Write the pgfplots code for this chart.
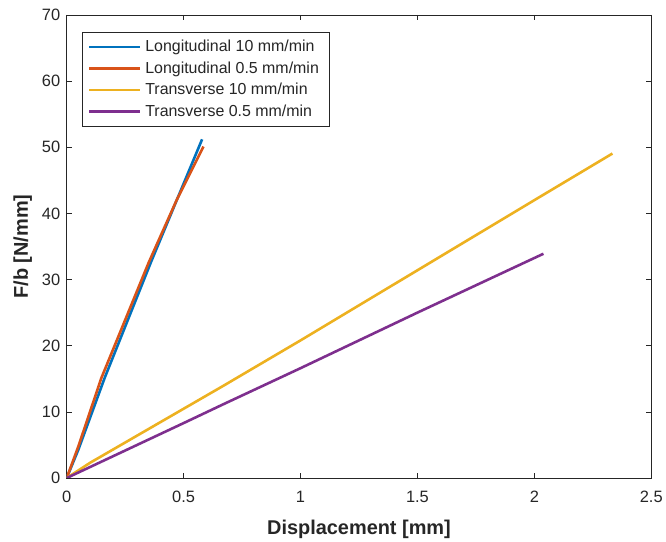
\documentclass[border=0pt]{standalone}
\usepackage{fontspec}
\setmainfont{Liberation Sans}
\usepackage{pgfplots}
\pgfplotsset{compat=1.18}
\definecolor{mblue}{rgb}{0,0.447,0.741}
\definecolor{morange}{rgb}{0.85,0.325,0.098}
\definecolor{myellow}{rgb}{0.929,0.694,0.125}
\definecolor{mpurple}{rgb}{0.494,0.184,0.556}
\definecolor{axgray}{rgb}{0.15,0.15,0.15}
\begin{document}
\begin{tikzpicture}
\begin{axis}[
  scale only axis, width=587pt, height=465pt,
  xmin=0, xmax=2.5, ymin=0, ymax=70,
  xtick={0,0.5,1,1.5,2,2.5}, ytick={0,10,...,70},
  xticklabels={0,0.5,1,1.5,2,2.5},
  tick align=inside, tick pos=both,
  major tick length=5pt,
  axis line style={axgray, line width=0.6pt},
  tick style={axgray, line width=0.6pt},
  /pgf/number format/assume math mode=true,
  tick label style={font=\fontsize{16.5}{19}\selectfont, text=axgray},
  xticklabel style={yshift=-10pt},
  yticklabel style={xshift=-3pt},
  xlabel={\textbf{Displacement [mm]}},
  ylabel={\textbf{F/b [N/mm]}},
  label style={font=\fontsize{20}{22}\selectfont, text=axgray},
  xlabel style={yshift=-10pt},
  ylabel style={yshift=3pt},
  legend style={at={(rel axis cs:0.0256,0.963)}, anchor=north west,
    draw=axgray, line width=0.6pt, font=\fontsize{16}{18}\selectfont,
    inner xsep=6pt, inner ysep=6pt, row sep=4.5pt, text=axgray,
    nodes={inner xsep=4pt}},
  legend cell align=left,
  legend image code/.code={\draw[#1, line width=2.6pt] (2pt,0pt) -- (53pt,0pt);},
  every axis plot/.append style={line width=2.6pt},
]
\addplot[mblue] coordinates {(0,0) (0.05,4.3) (0.162,15.1) (0.36,32.6) (0.48,42.8) (0.579,51.2)};
\addlegendentry{Longitudinal 10 mm/min}
\addplot[morange] coordinates {(0,0) (0.05,4.8) (0.148,15.1) (0.351,32.6) (0.47,42.0) (0.585,50.1)};
\addlegendentry{Longitudinal 0.5 mm/min}
\addplot[myellow] coordinates {(0,0) (0.1,2.3) (0.673,14.0) (1.0,20.8) (1.5,31.4) (2.0,42.0) (2.334,49.05)};
\addlegendentry{Transverse 10 mm/min}
\addplot[mpurple] coordinates {(0,0) (0.5,8.3) (0.673,11.2) (1.0,16.6) (1.5,25.0) (2.039,33.9)};
\addlegendentry{Transverse 0.5 mm/min}
\end{axis}
\path ([xshift=-67pt,yshift=-58pt]current axis.south west) rectangle ([xshift=12pt,yshift=15pt]current axis.north east);
\end{tikzpicture}
\end{document}
